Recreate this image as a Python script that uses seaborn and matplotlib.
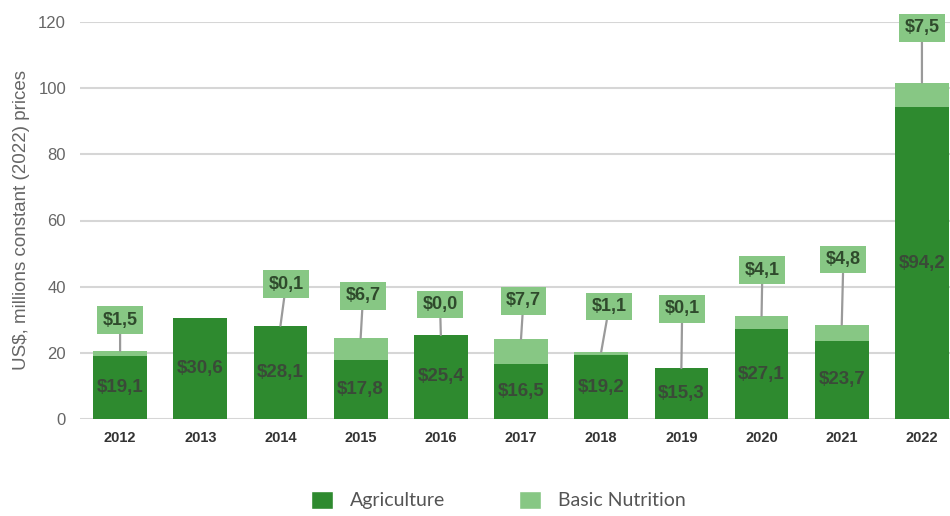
import matplotlib
matplotlib.use("Agg")
import matplotlib.pyplot as plt
from matplotlib.patches import Patch
import numpy as np
import pandas as pd
import seaborn as sns

years = ["2012", "2013", "2014", "2015", "2016", "2017", "2018", "2019", "2020", "2021", "2022"]
agriculture = [19.1, 30.6, 28.1, 17.8, 25.4, 16.5, 19.2, 15.3, 27.1, 23.7, 94.2]
basic_nutrition = [1.5, np.nan, 0.1, 6.7, 0.0, 7.7, 1.1, 0.1, 4.1, 4.8, 7.5]

# vertical position of the callout boxes for the nutrition values
callout_y = [29.9, None, 40.8, 37.2, 34.6, 35.7, 34.0, 33.3, 45.0, 48.2, 118.2]
callout_dx = [0.0, 0.0, 0.07, 0.03, -0.01, 0.03, 0.1, 0.01, 0.01, 0.02, 0.0]

DARK = "#2e8a2f"
LIGHT = "#87c784"

df = pd.DataFrame({"year": years, "agri": agriculture,
                   "nutr": np.nan_to_num(basic_nutrition)})
df["total"] = df["agri"] + df["nutr"]

sns.set_theme(style="white")
plt.rcParams["font.family"] = ["Liberation Sans", "DejaVu Sans"]

fig = plt.figure(figsize=(9.5, 5.16), dpi=100)
ax = fig.add_axes([80 / 950, 1 - 419 / 516, 870 / 950, 397 / 516])

sns.barplot(data=df, x="year", y="total", color=LIGHT, width=0.67,
            saturation=1, linewidth=0, ax=ax, zorder=3)
sns.barplot(data=df, x="year", y="agri", color=DARK, width=0.67,
            saturation=1, linewidth=0, ax=ax, zorder=3)

ax.set_ylim(0, 120)
ax.set_xlim(-0.5, 10.35)
ax.set_yticks(range(0, 121, 20))
ax.yaxis.grid(True, color="#d6d6d6", lw=1.5, zorder=0)
ax.set_axisbelow(True)
for s in ax.spines.values():
    s.set_visible(False)
ax.tick_params(axis="y", labelsize=12, labelcolor="#666666", length=0, pad=10)
ax.tick_params(axis="x", labelsize=10.5, labelcolor="#333333", length=0, pad=9)
for t in ax.get_xticklabels():
    t.set_fontweight("bold")
ax.set_xlabel("")
ax.set_ylabel("US$, millions constant (2022) prices", fontsize=13.5,
              color="#666666", va="center")
ax.yaxis.set_label_coords(-0.067, 0.5)

def fmt(v):
    return f"${v:.1f}".replace(".", ",")

for i, row in df.iterrows():
    ax.text(i, row["agri"] / 2, fmt(row["agri"]), ha="center", va="center",
            fontsize=13.5, fontweight="bold", color="#3a4a38", zorder=5)
    n = basic_nutrition[i]
    if np.isnan(n):
        continue
    ax.annotate(fmt(n), xy=(i, row["total"]),
                xytext=(i + callout_dx[i], callout_y[i]),
                ha="center", va="center", fontsize=13, fontweight="bold",
                color="#2f4a2c", zorder=6, annotation_clip=False,
                bbox=dict(boxstyle="square,pad=0.3", fc=LIGHT, ec="none"),
                arrowprops=dict(arrowstyle="-", color="#9a9a9a", lw=1.6,
                                shrinkA=0, shrinkB=0))

handles = [Patch(facecolor=DARK, label="Agriculture"),
           Patch(facecolor=LIGHT, label="Basic Nutrition")]
fig.legend(handles=handles, loc="center", bbox_to_anchor=(0.525, 1 - 500 / 516),
           ncol=2, frameon=False, prop={"family": "Lato", "size": 14},
           labelcolor="#555555", handlelength=1.1, handleheight=1.1,
           columnspacing=3.8, handletextpad=0.9)

fig.savefig("out.png", dpi=100)
